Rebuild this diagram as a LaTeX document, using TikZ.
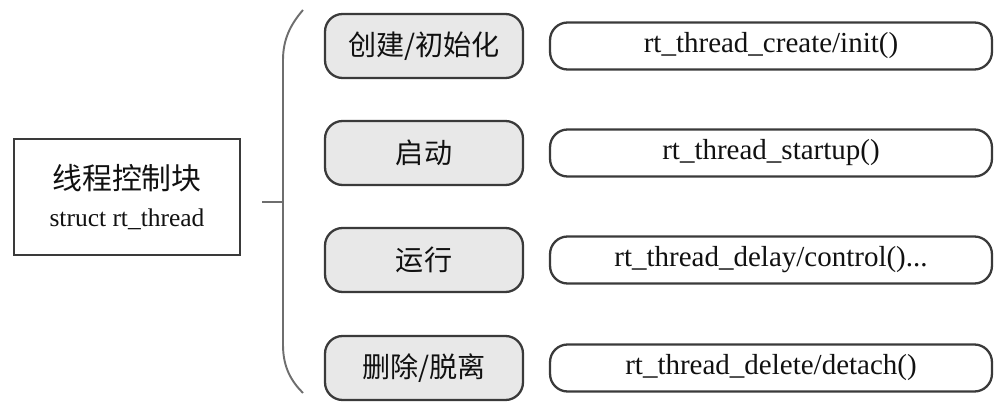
\documentclass[tikz,border=0pt]{standalone}
\usepackage{fontspec}
\setmainfont{Liberation Serif}
\newfontfamily\cjk{Noto Sans CJK SC}
\usetikzlibrary{positioning,calc}
\definecolor{Ink}{HTML}{111111}
\definecolor{Edge}{HTML}{3A3A3A}
\definecolor{StageFill}{HTML}{E8E8E8}
\definecolor{BraceLine}{HTML}{6E6E6E}
\tikzset{
  blockbox/.style={draw=Edge,line width=1.3pt,fill=white,minimum width=4.52cm,minimum height=2.32cm,align=center,inner sep=0pt,text=Ink},
  stagebox/.style={draw=Edge,line width=1.3pt,fill=StageFill,rounded corners=10pt,minimum width=3.96cm,minimum height=1.28cm,font=\cjk\fontsize{16}{18}\selectfont,text=Ink},
  apibox/.style={draw=Edge,line width=1.3pt,fill=white,rounded corners=10pt,minimum width=8.84cm,minimum height=0.94cm,font=\fontsize{16.5}{18}\selectfont,text=Ink},
  braceline/.style={draw=BraceLine,line width=1.1pt}
}

\begin{document}
\begin{tikzpicture}[x=0.02cm,y=-0.02cm]
  \useasboundingbox (0,0) rectangle (1002,408);
  % thread control block
  \node[blockbox] (tcb) at (127,197) {
    {\cjk\fontsize{17}{20}\selectfont 线程控制块}\\[9pt]
    {\fontsize{14.5}{16}\selectfont struct rt\_thread}
  };
  % brace
  \coordinate (braceTop) at (303,10);
  \coordinate (braceBot) at (303,393);
  \coordinate (braceMid) at (283,202);
  \coordinate (tick) at (262,202);
  \draw[braceline] (braceTop) .. controls (290,25) and (283,40) .. (283,60)
    -- (283,345) .. controls (283,368) and (292,382) .. (braceBot);
  \draw[braceline] (tick) -- (braceMid);
  % stages and their calls
  \foreach \name/\row/\stage/\call in {
      create/46/{创建/初始化}/{rt\_thread\_create/init()},
      startup/153/{启动}/{rt\_thread\_startup()},
      run/260/{运行}/{rt\_thread\_delay/control()...},
      delete/368/{删除/脱离}/{rt\_thread\_delete/detach()}}{
    \node[stagebox] (\name) at (424,\row) {\stage};
    \node[apibox] (\name-api) at (771,\row) {\call};
  }
\end{tikzpicture}
\end{document}
